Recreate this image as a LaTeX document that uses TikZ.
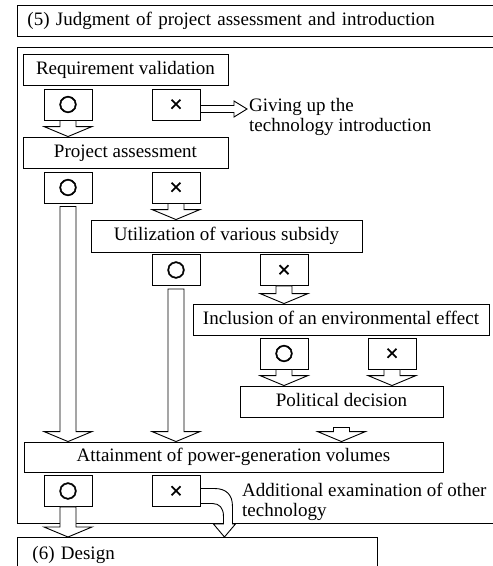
\documentclass[tikz,border=0pt]{standalone}
\usepackage{fontspec}
\usepackage{tikz}
\usetikzlibrary{positioning,calc}
\setmainfont{Liberation Serif}
\newfontfamily\marksym[FakeBold=2]{DejaVu Sans}
\newcommand\bodysize{\fontsize{19pt}{19.5pt}\selectfont}
\newcommand\okmark{{\marksym\fontsize{22pt}{22pt}\selectfont ○}}
\newcommand\ngmark{{\marksym\fontsize{17pt}{17pt}\selectfont ×}}
\tikzset{
  phase/.style={draw=black,line width=0.9pt,minimum height=31pt,inner sep=0pt,
    text height=13pt,text depth=4pt,font=\bodysize},
  judge/.style={draw=black,line width=0.9pt,minimum width=48pt,minimum height=31pt,
    inner sep=0pt},
  frame/.style={draw=black,line width=0.9pt},
  fat/.style={draw=black,line width=0.9pt,fill=white,line join=miter},
  note/.style={align=left,anchor=base west,inner sep=0pt,font=\bodysize},
}
\newcommand\fatdown[3][0]{%
  \draw[fat] ($(#2.south)+(-8,#1)$) -- ($(#2.south |- #3.north)+(-8,-10)$)
    -- ($(#2.south |- #3.north)+(-24,-10)$) -- (#2.south |- #3.north)
    -- ($(#2.south |- #3.north)+(24,-10)$) -- ($(#2.south |- #3.north)+(8,-10)$)
    -- ($(#2.south)+(8,#1)$) -- cycle;}

\begin{document}
\begin{tikzpicture}[x=1pt,y=-1pt]
\useasboundingbox (0,0) rectangle (493,566);
\draw[frame] (17,47) rectangle (520,523);
\node[phase,anchor=west,minimum width=490pt,text width=470pt,inner xsep=10pt,align=left]
  (title) at (17,20.5) {(5) Judgment of project assessment and introduction};
\node[phase,minimum width=205pt] (req) at (125.5,70) {Requirement validation};
\node[judge] (o1) at (68,104.5) {\okmark};
\node[judge] (x1) at (176,104.5) {\ngmark};
\node[note] (giveup) at (249,131) {Giving up the\\technology introduction};
\node[phase,minimum width=205pt] (proj) at (125.5,152.5) {Project assessment};
\node[judge] (o2) at (68,187.5) {\okmark};
\node[judge] (x2) at (176,187.5) {\ngmark};
\node[phase,minimum width=271pt,minimum height=32pt] (util) at (226.5,236) {Utilization of various subsidy};
\node[judge] (o3) at (176,270) {\okmark};
\node[judge] (x3) at (284,270) {\ngmark};
\node[phase,minimum width=296pt] (incl) at (341,319.5) {Inclusion of an environmental effect};
\node[judge] (o4) at (284,353.5) {\okmark};
\node[judge] (x4) at (392,353.5) {\ngmark};
\node[phase,minimum width=203pt] (pol) at (341.5,401.5) {Political decision};
\node[phase,minimum width=419pt,minimum height=30pt] (att) at (233.5,457) {Attainment of power-generation volumes};
\node[judge] (o5) at (68,491) {\okmark};
\node[judge] (x5) at (176,491) {\ngmark};
\node[note] (addexam) at (242,516) {Additional examination of other\\technology};
\node[phase,anchor=north west,minimum width=345pt,minimum height=36pt,text width=330pt,
  inner xsep=15pt,align=left] (design) at (17,537) {(6) Design};
\fatdown{o1}{proj}
\fatdown{x2}{util}
\fatdown[3]{o2}{att}
\fatdown[3]{o3}{att}
\fatdown{x3}{incl}
\fatdown{o4}{pol}
\fatdown{x4}{pol}
\fatdown[10]{pol}{att}
\fatdown{o5}{design}
\draw[fat] let \p1=($(x1.east)+(0,4.5)$), \p2=($(x1.east -| giveup.west)+(-2,4.5)$) in
  (\x1,\y1+3.5pt) -- (\x2-13pt,\y1+3.5pt) -- (\x2-13pt,\y1+8pt) -- (\x2,\y1)
  -- (\x2-13pt,\y1-8pt) -- (\x2-13pt,\y1-3.5pt) -- (\x1,\y1-3.5pt) -- cycle;
\coordinate (bend) at ($(x5.east)+(24,0)$);
\draw[fat] ($(x5.east)+(0,-2.5)$) -- ($(x5.east)+(14,-2.5)$)
  .. controls ($(x5.east)+(26,-2.5)$) and ($(x5.east)+(32,4)$) .. ($(x5.east)+(32,15)$)
  -- ($(x5.east)+(32,33)$) -- ($(x5.east)+(35,33)$) -- (bend |- design.north)
  -- ($(x5.east)+(13,33)$) -- ($(x5.east)+(23,33)$) -- ($(x5.east)+(23,25)$)
  .. controls ($(x5.east)+(23,17)$) and ($(x5.east)+(19,12.5)$) .. ($(x5.east)+(12,12.5)$)
  -- ($(x5.east)+(0,12.5)$) -- cycle;
\end{tikzpicture}
\end{document}
